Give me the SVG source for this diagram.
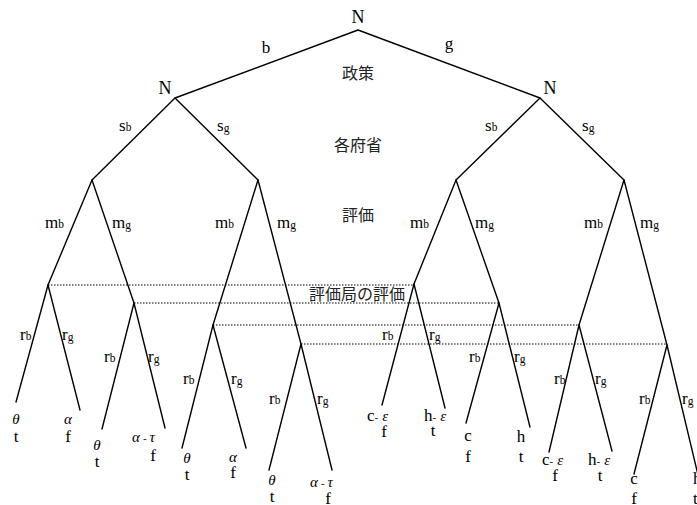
<svg xmlns="http://www.w3.org/2000/svg" width="697" height="505" viewBox="0 0 697 505">
<style>
.e{stroke:#000;stroke-width:1.4;fill:none;stroke-linecap:round}
.d{stroke:#000;stroke-width:1;fill:none;stroke-dasharray:1.5 1.5}
text{font-family:"Liberation Serif","Noto Sans CJK JP",serif;fill:#000}
.n{font-size:18px;text-anchor:middle}
.l{font-size:17px}
.c{font-size:17px;text-anchor:middle}
.s{font-size:11.5px}
.j{font-family:"Noto Sans CJK JP",sans-serif;font-size:16px;fill:#222;text-anchor:middle}
.g{font-style:italic;font-size:15px}
</style>
<rect width="697" height="505" fill="#fff"/>
<g id="connectors">
<path class="e" d="M358,30L175,98M358,30L540,98"/>
<path class="e" d="M175,98L92,180M175,98L258,180M540,98L456,180M540,98L624,180"/>
<path class="e" d="M92,180L48,285M92,180L134,303M258,180L213,325M258,180L301,344M456,180L414,284M456,180L499,303M624,180L579,325M624,180L667,345"/>
<path class="e" d="M48,285L16,402M48,285L80,410M134,303L102,429M134,303L165,428M213,325L182,448M213,325L246,448M301,344L269,470M301,344L332,470"/>
<path class="e" d="M414,284L382,405M414,284L445,408M499,303L466,423M499,303L530,427M579,325L549,452M579,325L612,451M667,345L634,474M667,345L698,475"/>
<path class="d" d="M48,285H414M134,303H499M213,325H579M301,344H667"/>
<text class="l" x="266" y="53" text-anchor="middle">b</text>
<text class="l" x="449" y="49" text-anchor="middle">g</text>
<text class="l" x="119" y="131">s<tspan class="s">b</tspan></text>
<text class="l" x="217" y="131">s<tspan class="s" dy="1">g</tspan></text>
<text class="l" x="485" y="131">s<tspan class="s">b</tspan></text>
<text class="l" x="582" y="131">s<tspan class="s" dy="1">g</tspan></text>
<text class="l" x="45" y="228">m<tspan class="s">b</tspan></text>
<text class="l" x="112" y="228">m<tspan class="s" dy="1">g</tspan></text>
<text class="l" x="215" y="228">m<tspan class="s">b</tspan></text>
<text class="l" x="277" y="228">m<tspan class="s" dy="1">g</tspan></text>
<text class="l" x="410" y="228">m<tspan class="s">b</tspan></text>
<text class="l" x="475" y="228">m<tspan class="s" dy="1">g</tspan></text>
<text class="l" x="584" y="228">m<tspan class="s">b</tspan></text>
<text class="l" x="640" y="228">m<tspan class="s" dy="1">g</tspan></text>
<text class="l" x="20" y="340">r<tspan class="s">b</tspan></text>
<text class="l" x="62" y="340">r<tspan class="s" dy="1">g</tspan></text>
<text class="l" x="104" y="362">r<tspan class="s">b</tspan></text>
<text class="l" x="148" y="362">r<tspan class="s" dy="1">g</tspan></text>
<text class="l" x="183" y="384">r<tspan class="s">b</tspan></text>
<text class="l" x="231" y="384">r<tspan class="s" dy="1">g</tspan></text>
<text class="l" x="269" y="404">r<tspan class="s">b</tspan></text>
<text class="l" x="317" y="404">r<tspan class="s" dy="1">g</tspan></text>
<text class="l" x="382" y="340">r<tspan class="s">b</tspan></text>
<text class="l" x="429" y="340">r<tspan class="s" dy="1">g</tspan></text>
<text class="l" x="469" y="362">r<tspan class="s">b</tspan></text>
<text class="l" x="514" y="362">r<tspan class="s" dy="1">g</tspan></text>
<text class="l" x="554" y="384">r<tspan class="s">b</tspan></text>
<text class="l" x="595" y="384">r<tspan class="s" dy="1">g</tspan></text>
<text class="l" x="639" y="404">r<tspan class="s">b</tspan></text>
<text class="l" x="682" y="404">r<tspan class="s" dy="1">g</tspan></text>
</g>
<g id="stage-labels">
<text class="j" x="358" y="79">政策</text>
<text class="j" x="358" y="151">各府省</text>
<text class="j" x="358" y="221">評価</text>
<text class="j" x="357" y="300">評価局の評価</text>
</g>
<g id="root"><text class="n" x="358" y="23">N</text></g>
<g id="nature-b"><text class="n" x="165" y="94">N</text></g>
<g id="nature-g"><text class="n" x="550" y="94">N</text></g>
<g id="leaf-1"><text class="g" x="16" y="424" text-anchor="middle">θ</text><text class="c" x="16" y="442">t</text></g>
<g id="leaf-2"><text class="g" x="68" y="424" text-anchor="middle">α</text><text class="c" x="68" y="442">f</text></g>
<g id="leaf-3"><text class="g" x="97" y="450" text-anchor="middle">θ</text><text class="c" x="97" y="467">t</text></g>
<g id="leaf-4"><text class="g" x="132" y="442">α<tspan font-style="normal" font-size="11" dx="3">-</tspan><tspan dx="3">τ</tspan></text><text class="c" x="153" y="461">f</text></g>
<g id="leaf-5"><text class="g" x="187" y="463" text-anchor="middle">θ</text><text class="c" x="187" y="480">t</text></g>
<g id="leaf-6"><text class="g" x="233" y="462" text-anchor="middle">α</text><text class="c" x="233" y="478">f</text></g>
<g id="leaf-7"><text class="g" x="272" y="485" text-anchor="middle">θ</text><text class="c" x="272" y="502">t</text></g>
<g id="leaf-8"><text class="g" x="310" y="487">α<tspan font-style="normal" font-size="11" dx="3">-</tspan><tspan dx="3">τ</tspan></text><text class="c" x="328" y="504">f</text></g>
<g id="leaf-9"><text class="l" x="367" y="421">c<tspan font-size="11">-</tspan><tspan class="g" font-size="11" dx="4">ε</tspan></text><text class="c" x="384" y="437">f</text></g>
<g id="leaf-10"><text class="l" x="424" y="421">h<tspan font-size="11">-</tspan><tspan class="g" font-size="11" dx="4">ε</tspan></text><text class="c" x="433" y="436">t</text></g>
<g id="leaf-11"><text class="c" x="468" y="441">c</text><text class="c" x="468" y="462">f</text></g>
<g id="leaf-12"><text class="c" x="521" y="442">h</text><text class="c" x="521" y="462">t</text></g>
<g id="leaf-13"><text class="l" x="542" y="465">c<tspan font-size="11">-</tspan><tspan class="g" font-size="11" dx="4">ε</tspan></text><text class="c" x="555" y="481">f</text></g>
<g id="leaf-14"><text class="l" x="588" y="465">h<tspan font-size="11">-</tspan><tspan class="g" font-size="11" dx="4">ε</tspan></text><text class="c" x="600" y="481">t</text></g>
<g id="leaf-15"><text class="c" x="634" y="484">c</text><text class="c" x="634" y="504">f</text></g>
<g id="leaf-16"><text class="l" x="693" y="484">h</text><text class="l" x="693" y="504">t</text></g>
</svg>
